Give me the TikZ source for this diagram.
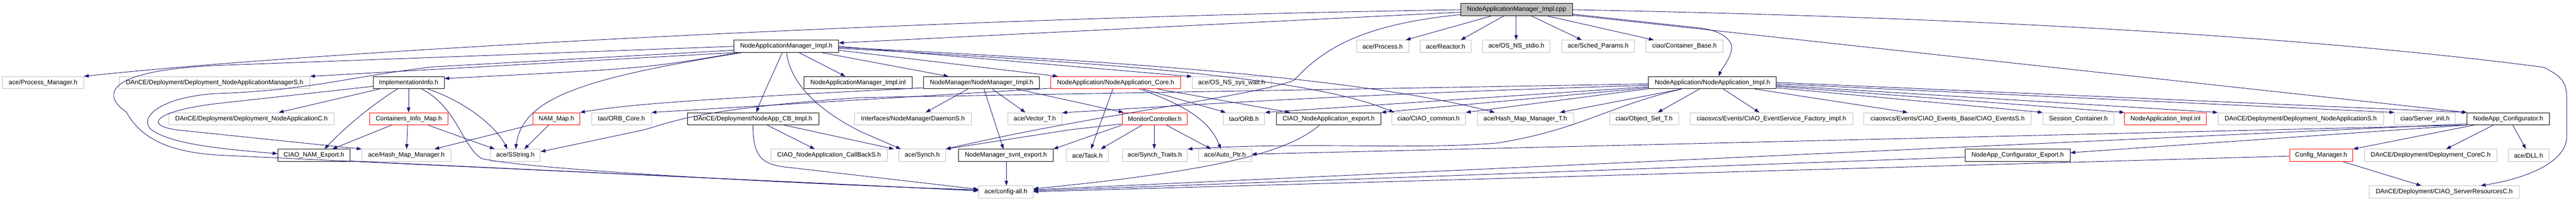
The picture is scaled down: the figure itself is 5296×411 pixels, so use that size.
\documentclass[tikz,border=0pt]{standalone}
\usepackage{fontspec}
\usetikzlibrary{arrows.meta}
\newfontfamily\lsans{Liberation Sans}
\newcommand\pxu{0.02cm}
\definecolor{edgeblue}{HTML}{191970}
\definecolor{boxgray}{HTML}{BFBFBF}
\tikzset{
  nb/.style={draw, rectangle, minimum height=25*\pxu, inner sep=0pt, line width=0.55pt,
             font=\lsans\fontsize{7.45}{9}\selectfont},
  gbox/.style={nb, draw=boxgray},
  kbox/.style={nb, draw=black},
  rbox/.style={nb, draw=red},
  rootbox/.style={nb, draw=black, fill=boxgray},
  e/.style={draw=edgeblue, line width=0.55pt, -{Triangle[length=0.2cm,width=0.14cm]}}
}
\begin{document}
\begin{tikzpicture}[x=0.02cm, y=-0.02cm]
\useasboundingbox (0,0) rectangle (5296,411);
% row 0
\node[rootbox, minimum width=230*\pxu] (root) at (3118,19.5) {NodeApplicationManager\_Impl.cpp};
% row 1
\node[kbox, minimum width=215*\pxu] (namimplh) at (1616.5,95) {NodeApplicationManager\_Impl.h};
\node[gbox, minimum width=107*\pxu] (process) at (2842.5,95) {ace/Process.h};
\node[gbox, minimum width=104*\pxu] (reactor) at (2972,95) {ace/Reactor.h};
\node[gbox, minimum width=139*\pxu] (stdio) at (3117.5,95) {ace/OS\_NS\_stdio.h};
\node[gbox, minimum width=149*\pxu] (sched) at (3285.5,95) {ace/Sched\_Params.h};
\node[gbox, minimum width=158*\pxu] (contbase) at (3463,95) {ciao/Container\_Base.h};
% row 2
\node[gbox, minimum width=167*\pxu] (procman) at (88.5,169.5) {ace/Process\_Manager.h};
\node[gbox, minimum width=392*\pxu] (damS) at (441,169.5) {DAnCE/Deployment/Deployment\_NodeApplicationManagerS.h};
\node[kbox, minimum width=146*\pxu] (implinfo) at (840,169.5) {ImplementationInfo.h};
\node[kbox, minimum width=222*\pxu] (naminl) at (1764,169.5) {NodeApplicationManager\_Impl.inl};
\node[kbox, minimum width=238*\pxu] (nmimpl) at (2018,169.5) {NodeManager/NodeManager\_Impl.h};
\node[rbox, minimum width=267*\pxu] (nacore) at (2293.5,169.5) {NodeApplication/NodeApplication\_Core.h};
\node[gbox, minimum width=162*\pxu] (syswait) at (2532,169.5) {ace/OS\_NS\_sys\_wait.h};
\node[kbox, minimum width=263*\pxu] (naimpl) at (3520.5,169.5) {NodeApplication/NodeApplication\_Impl.h};
% row 3
\node[gbox, minimum width=340*\pxu] (danC) at (517,243.5) {DAnCE/Deployment/Deployment\_NodeApplicationC.h};
\node[rbox, minimum width=161*\pxu] (cim) at (840.5,243.5) {Containers\_Info\_Map.h};
\node[rbox, minimum width=96*\pxu] (nammap) at (1144,243.5) {NAM\_Map.h};
\node[gbox, minimum width=123*\pxu] (orbcore) at (1277.5,243.5) {tao/ORB\_Core.h};
\node[kbox, minimum width=270*\pxu] (cbimpl) at (1548,243.5) {DAnCE/Deployment/NodeApp\_CB\_Impl.h};
\node[gbox, minimum width=240*\pxu] (nmdS) at (1877,243.5) {Interfaces/NodeManagerDaemonS.h};
\node[gbox, minimum width=111*\pxu] (vector) at (2127.5,243.5) {ace/Vector\_T.h};
\node[rbox, minimum width=134*\pxu] (monitor) at (2374,243.5) {MonitorController.h};
\node[gbox, minimum width=85*\pxu] (orb) at (2557.5,243.5) {tao/ORB.h};
\node[kbox, minimum width=215*\pxu] (naexport) at (2731.5,243.5) {CIAO\_NodeApplication\_export.h};
\node[gbox, minimum width=152*\pxu] (common) at (2937,243.5) {ciao/CIAO\_common.h};
\node[gbox, minimum width=198*\pxu] (hmmT) at (3136,243.5) {ace/Hash\_Map\_Manager\_T.h};
\node[gbox, minimum width=142*\pxu] (objset) at (3380,243.5) {ciao/Object\_Set\_T.h};
\node[gbox, minimum width=334*\pxu] (esfact) at (3642,243.5) {ciaosvcs/Events/CIAO\_EventService\_Factory\_impl.h};
\node[gbox, minimum width=344*\pxu] (eventsS) at (4004,243.5) {ciaosvcs/Events/CIAO\_Events\_Base/CIAO\_EventsS.h};
\node[gbox, minimum width=146*\pxu] (session) at (4273,243.5) {Session\_Container.h};
\node[rbox, minimum width=168*\pxu] (nainl) at (4452,243.5) {NodeApplication\_Impl.inl};
\node[gbox, minimum width=340*\pxu] (danS) at (4730,243.5) {DAnCE/Deployment/Deployment\_NodeApplicationS.h};
\node[gbox, minimum width=125*\pxu] (srvinit) at (4985.5,243.5) {ciao/Server\_init.h};
\node[kbox, minimum width=169*\pxu] (nacfg) at (5156.5,243.5) {NodeApp\_Configurator.h};
% row 4
\node[kbox, minimum width=149*\pxu] (namexp) at (645.5,318.5) {CIAO\_NAM\_Export.h};
\node[gbox, minimum width=183*\pxu] (hmm) at (835.5,318.5) {ace/Hash\_Map\_Manager.h};
\node[gbox, minimum width=103*\pxu] (sstring) at (1059.5,318.5) {ace/SString.h};
\node[gbox, minimum width=239*\pxu] (cbS) at (1704.5,318.5) {CIAO\_NodeApplication\_CallBackS.h};
\node[gbox, minimum width=96*\pxu] (synch) at (1896,318.5) {ace/Synch.h};
\node[kbox, minimum width=194*\pxu] (svntexp) at (2068,318.5) {NodeManager\_svnt\_export.h};
\node[gbox, minimum width=87*\pxu] (task) at (2235.5,318.5) {ace/Task.h};
\node[gbox, minimum width=134*\pxu] (traits) at (2374,318.5) {ace/Synch\_Traits.h};
\node[gbox, minimum width=109*\pxu] (autoptr) at (2518.5,318.5) {ace/Auto\_Ptr.h};
\node[kbox, minimum width=216*\pxu] (cfgexp) at (4148,318.5) {NodeApp\_Configurator\_Export.h};
\node[rbox, minimum width=130*\pxu] (cfgmgr) at (4772,318.5) {Config\_Manager.h};
\node[gbox, minimum width=272*\pxu] (coreC) at (4997,318.5) {DAnCE/Deployment/Deployment\_CoreC.h};
\node[gbox, minimum width=83*\pxu] (dll) at (5198.5,318.5) {ace/DLL.h};
% row 5
\node[gbox, minimum width=112*\pxu] (config) at (2068,393.5) {ace/config-all.h};
\node[gbox, minimum width=308*\pxu] (srvres) at (5025,393.5) {DAnCE/Deployment/CIAO\_ServerResourcesC.h};

% ---- edges from root
\draw[e] (root.west |- 0,25) -- (namimplh.east |- 0,88);
\draw[e] (root.west |- 0,20) .. controls (2000,35) and (700,100) .. (procman.north east);
\draw[e] (root.south -| 3067,0) -- (process.north -| 2890,0);
\draw[e] (root.south -| 3092,0) -- (reactor.north -| 3003,0);
\draw[e] (root.south -| 3117,0) -- (stdio.north -| 3117,0);
\draw[e] (root.south -| 3148,0) -- (sched.north -| 3252,0);
\draw[e] (root.south -| 3180,0) -- (contbase.north -| 3400,0);
\draw[e] (root.east |- 0,29) -- (3500,58) .. controls (3545,65) and (3562,85) .. (3560,100) .. controls (3558,120) and (3540,140) .. (naimpl.north -| 3533,0);
\draw[e] (root.west |- 0,30) .. controls (2800,50) and (2720,100) .. (2660,165) .. controls (2560,200) and (2250,235) .. (synch.north east);
\draw[e] (root.east |- 0,31) -- (nacfg.north west);
\draw[e] (root.east |- 0,20) .. controls (4300,40) and (4900,95) .. (5230,138) .. controls (5262,155) and (5277,165) .. (5277,200) -- (5277,280) .. controls (5277,330) and (5200,365) .. (srvres.north -| 5100,0);

% ---- NodeApplicationManager_Impl.h
\draw[e] (namimplh.south west) -- (damS.north east);
\draw[e] (namimplh.south -| 1517,0) .. controls (1330,140) .. (implinfo.east |- 0,161);
\draw[e] (namimplh.south -| 1525,0) .. controls (1200,160) and (1075,200) .. (sstring.north -| 1060,0);
\draw[e] (namimplh.west |- 0,103) -- (890,137) .. controls (700,160) and (640,185) .. (440,192) .. controls (330,200) and (285,240) .. (310,265) .. controls (350,295) and (450,305) .. (namexp.west |- 0,315);
\draw[e] (namimplh.west |- 0,95) -- (450,134) .. controls (200,145) and (215,200) .. (260,230) .. controls (290,285) and (350,312) .. (450,318) -- (config.west |- 0,391);
\draw[e] (namimplh.south -| 1643,0) -- (naminl.north -| 1738,0);
\draw[e] (namimplh.south -| 1690,0) -- (nmimpl.north -| 1950,0);
\draw[e] (namimplh.east |- 0,103) -- (nacore.north -| 2175,0);
\draw[e] (namimplh.east |- 0,95) -- (syswait.west |- 0,157);
\draw[e] (namimplh.south -| 1608,0) .. controls (1590,150) and (1570,190) .. (cbimpl.north -| 1555,0);
\draw[e] (namimplh.south -| 1617,0) .. controls (1625,170) and (1680,225) .. (1770,270) -- (synch.north -| 1852,0);
\draw[e] (namimplh.east |- 0,99) .. controls (2300,130) and (2700,160) .. (common.north -| 2866,0);
\draw[e] (namimplh.east |- 0,97) .. controls (2300,125) and (2800,160) .. (hmmT.north -| 3073,0);

% ---- ImplementationInfo.h
\draw[e] (implinfo.south -| 780,0) -- (danC.north -| 573,0);
\draw[e] (implinfo.south -| 840,0) -- (cim.north -| 840,0);
\draw[e] (implinfo.south -| 817,0) .. controls (780,205) and (720,250) .. (namexp.north -| 667,0);
\draw[e] (implinfo.west |- 0,177) -- (440,213) .. controls (320,228) and (290,258) .. (370,267) -- (hmm.north west);
\draw[e] (implinfo.south -| 880,0) .. controls (960,210) and (1020,260) .. (sstring.north -| 1043,0);
\draw[e] (implinfo.south -| 867,0) .. controls (940,220) and (950,300) .. (990,325) .. controls (1100,350) and (1700,380) .. (config.west |- 0,389);

% ---- Containers_Info_Map.h
\draw[e] (cim.south -| 805,0) -- (namexp.north -| 683,0);
\draw[e] (cim.south -| 838,0) -- (hmm.north -| 836,0);
\draw[e] (cim.south -| 880,0) -- (sstring.north -| 1017,0);

% ---- NAM_Map.h
\draw[e] (nammap.west |- 0,255) -- (hmm.north -| 893,0);
\draw[e] (nammap.south -| 1128,0) -- (sstring.north -| 1078,0);

% ---- NodeApp_CB_Impl.h
\draw[e] (cbimpl.south -| 1577,0) -- (cbS.north -| 1675,0);
\draw[e] (cbimpl.south -| 1612,0) -- (synch.north -| 1838,0);
\draw[e] (cbimpl.south -| 1548,0) .. controls (1548,320) and (1565,338) .. (1620,343) -- (config.west |- 0,388);

% ---- NodeManager_Impl.h
\draw[e] (nmimpl.south -| 1990,0) -- (nmdS.north -| 1903,0);
\draw[e] (nmimpl.south -| 2023,0) -- (svntexp.north -| 2063,0);
\draw[e] (nmimpl.south -| 2040,0) -- (vector.north -| 2108,0);
\draw[e] (nmimpl.south -| 2090,0) -- (monitor.north -| 2310,0);
\draw[e] (nmimpl.west |- 0,180) .. controls (1500,200) and (1300,212) .. (nammap.north east);

% ---- NodeApplication_Core.h
\draw[e] (nacore.south -| 2288,0) -- (task.north -| 2243,0);
\draw[e] (nacore.south -| 2343,0) .. controls (2450,220) and (2490,255) .. (autoptr.north -| 2510,0);
\draw[e] (nacore.south -| 2350,0) -- (orb.north -| 2520,0);
\draw[e] (nacore.south -| 2380,0) -- (naexport.north -| 2652,0);
\draw[e] (nacore.west |- 0,181) -- (orbcore.north east);

% ---- MonitorController.h
\draw[e] (monitor.south -| 2348,0) -- (task.north -| 2263,0);
\draw[e] (monitor.south -| 2373,0) -- (traits.north -| 2373,0);
\draw[e] (monitor.south -| 2398,0) -- (autoptr.north -| 2490,0);
\draw[e] (monitor.west |- 0,254) -- (2200,266) -- (synch.north east);
\draw[e] (monitor.south west) -- (svntexp.north east);

% ---- NodeApplication_Impl.h
\draw[e] (naimpl.west |- 0,180) -- (naexport.north east);
\draw[e] (naimpl.west |- 0,182) -- (common.north east);
\draw[e] (naimpl.south -| 3457,0) -- (hmmT.north -| 3207,0);
\draw[e] (naimpl.west |- 0,175) .. controls (2700,195) and (2350,222) .. (vector.east |- 0,231);
\draw[e] (naimpl.west |- 0,178) -- (orb.north east);
\draw[e] (naimpl.west |- 0,172) -- (1770,200) .. controls (1420,224) and (1380,252) .. (1320,267) -- (sstring.east |- 0,311);
\draw[e] (naimpl.south -| 3457,0) .. controls (3300,220) and (3250,265) .. (3080,293) .. controls (2900,308) and (2700,290) .. (traits.north east);
\draw[e] (naimpl.south -| 3494,0) -- (objset.north -| 3408,0);
\draw[e] (naimpl.south -| 3543,0) -- (esfact.north -| 3617,0);
\draw[e] (naimpl.south -| 3608,0) -- (eventsS.north -| 3922,0);
\draw[e] (naimpl.east |- 0,180) -- (session.north west);
\draw[e] (naimpl.east |- 0,177) -- (nainl.north west);
\draw[e] (naimpl.east |- 0,175) -- (danS.north west);
\draw[e] (naimpl.east |- 0,172) -- (srvinit.north west);
\draw[e] (naimpl.east |- 0,169) -- (nacfg.north west);

% ---- CIAO_NodeApplication_export.h
\draw[e] (naexport.south -| 2713,0) .. controls (2660,300) and (2560,345) .. (config.east |- 0,387);

% ---- NodeApp_Configurator.h
\draw[e] (nacfg.south -| 5126,0) -- (coreC.north -| 5029,0);
\draw[e] (nacfg.south -| 5166,0) -- (dll.north -| 5193,0);
\draw[e] (nacfg.south -| 5086,0) -- (cfgmgr.north east);
\draw[e] (nacfg.south west) -- (cfgexp.east |- 0,313);
\draw[e] (nacfg.south west) -- (autoptr.east |- 0,316);
\draw[e] (nacfg.west |- 0,254) -- (config.east |- 0,389);

% ---- others
\draw[e] (cfgexp.west |- 0,322) -- (config.east |- 0,391);
\draw[e] (cfgmgr.west |- 0,320) -- (config.east |- 0,393);
\draw[e] (cfgmgr.south -| 4817,0) -- (srvres.north -| 4978,0);
\draw[e] (svntexp.south -| 2069,0) -- (config.north -| 2069,0);
\draw[e] (namexp.east |- 0,330) -- (config.west |- 0,391);
\end{tikzpicture}
\end{document}
